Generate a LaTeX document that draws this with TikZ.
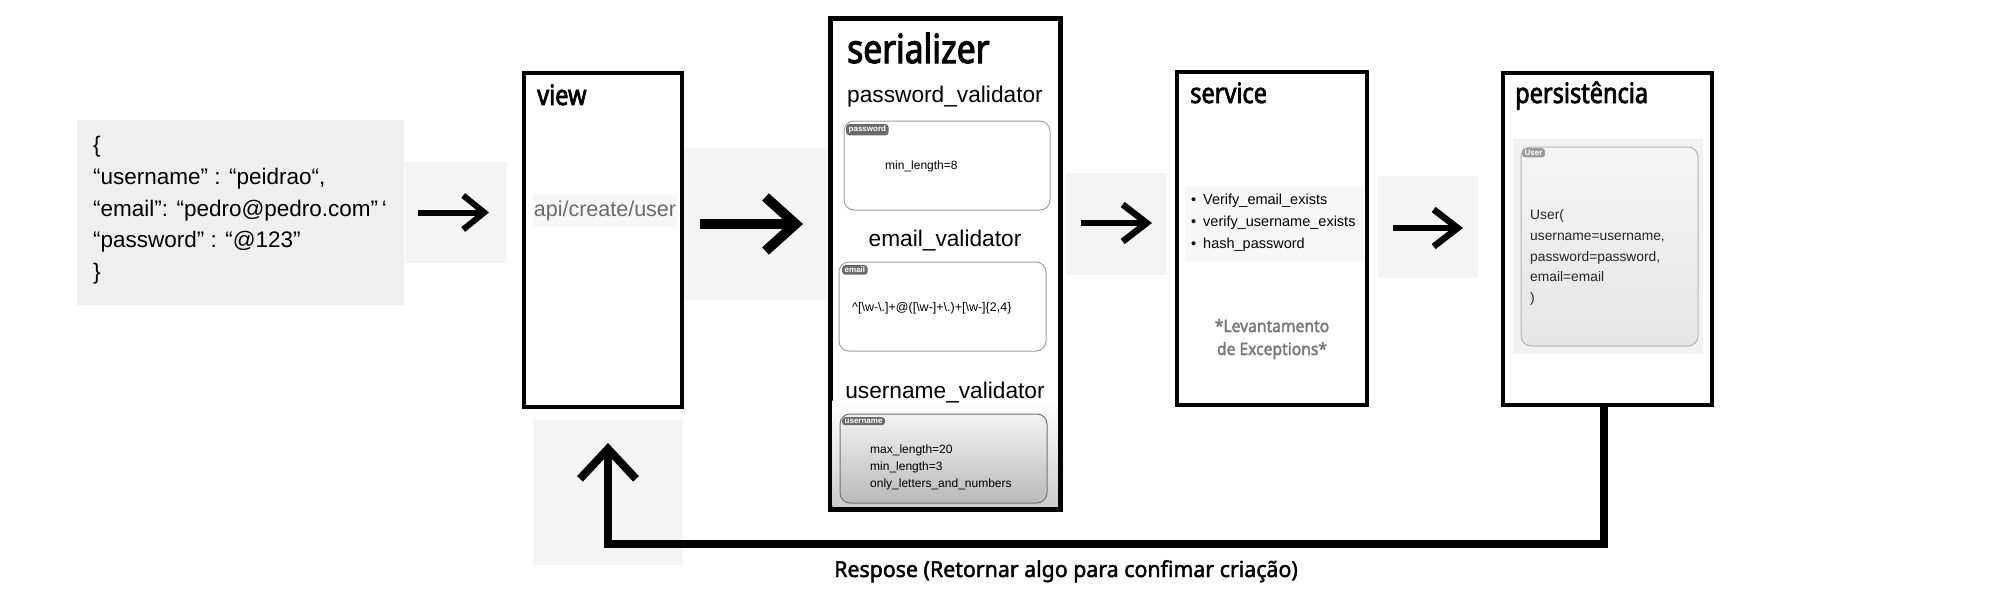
\documentclass[tikz,border=0pt]{standalone}
\usepackage{fontspec}
\setmainfont{Liberation Sans}
\newfontfamily\titlefont{Noto Sans}[FakeStretch=0.84, FakeBold=2.6]
\newfontfamily\respfont{Noto Sans}[FakeStretch=0.97, FakeBold=2]
\newfontfamily\notefont{Noto Sans}[FakeStretch=0.92, FakeBold=2]
\usetikzlibrary{arrows.meta,calc}
\definecolor{jsonbg}{HTML}{EFEFEF}
\definecolor{hatchbg}{HTML}{F4F4F4}
\definecolor{apibg}{HTML}{F7F7F7}
\definecolor{apigray}{HTML}{6B6B6B}
\definecolor{vgray}{HTML}{A0A0A0}
\definecolor{taggray}{HTML}{6A6A6A}
\definecolor{usertag}{HTML}{9A9A9A}
\definecolor{perbg}{HTML}{F2F2F2}
\definecolor{notegray}{HTML}{777777}
\tikzset{
  hatch/.style={fill=hatchbg, draw=none, inner sep=0pt},
  layer/.style={draw=black, line width=4pt, fill=white, inner sep=0pt},
  ttl/.style={anchor=base west, inner sep=0pt, font=\titlefont\fontsize{28}{30}\selectfont},
  vtitle/.style={anchor=base, inner sep=0pt, font=\fontsize{22.7}{26}\selectfont},
  vbox/.style={draw=vgray, line width=1pt, rounded corners=10pt, fill=white, inner sep=0pt},
  tag/.style={fill=taggray, rounded corners=3pt, text=white, inner xsep=2.5pt, inner ysep=1.8pt, font=\bfseries\fontsize{8}{8}\selectfont, anchor=north west},
  body/.style={anchor=base west, inner sep=0pt, font=\fontsize{12}{14}\selectfont},
  jsontxt/.style={anchor=base west, inner sep=0pt, font=\fontsize{22.5}{26}\selectfont},
  listtxt/.style={anchor=base west, inner sep=0pt, font=\fontsize{14.5}{16}\selectfont},
  usertxt/.style={anchor=base west, inner sep=0pt, font=\fontsize{13.8}{16}\selectfont, text=black!85},
  note/.style={anchor=base, inner sep=0pt, text=notegray, font=\notefont\fontsize{17}{19}\selectfont},
  flow/.style={line width=6pt, -{Straight Barb[length=21pt,width=34pt]}},
}
\begin{document}
\begin{tikzpicture}[x=1pt,y=-1pt]
\useasboundingbox (0,0) rectangle (2000,600);
\fill[white] (0,0) rectangle (2000,600);

% hatched image backgrounds
\node[hatch, minimum width=102, minimum height=101] (h1) at (456,212.5) {};
\node[hatch, minimum width=149, minimum height=152] (h2) at (752.5,224) {};
\node[hatch, minimum width=101, minimum height=102] (h3) at (1116.5,224) {};
\node[hatch, minimum width=100, minimum height=102] (h4) at (1428,227) {};
\node[hatch, minimum width=150, minimum height=145] (h5) at (608,492.5) {};

% JSON request
\node[fill=jsonbg, minimum width=327, minimum height=185, inner sep=0pt] (json) at (240.5,212.5) {};
\node[jsontxt] (j1) at (93,152) {\{};
\node[jsontxt] (j2) at (93,184) {“username” : “peidrao“,};
\node[jsontxt] (j3) at (93,216) {“email”: “pedro@pedro.com”\,`};
\node[jsontxt] (j4) at (93,247) {“password” : “@123”};
\node[jsontxt] (j5) at (93,279) {\}};

% view
\node[layer, minimum width=158, minimum height=334] (view) at (603,240) {};
\node[ttl] (viewt) at (537,105) {view};
\node[fill=apibg, text=apigray, inner sep=0pt, minimum width=144, minimum height=32, font=\fontsize{21.5}{24}\selectfont] (api) at (605,211) {api/create/user};

% serializer
\node[layer, line width=5pt, minimum width=230, minimum height=491] (ser) at (945,263.5) {};
\shade[top color=white, bottom color=black!20] (832.5,400) rectangle (1057.5,506.5);
\node[ttl, font=\titlefont\fontsize{40}{42}\selectfont] (sert) at (847,63) {serializer};

\node[vtitle] (pwt) at (945,102) {password\_validator};
\node[vbox, minimum width=206, minimum height=89] (pwb) at (947,165.5) {};
\node[tag] (pwtag) at (846,124) {password};
\node[body] (pwtxt) at (885,169) {min\_length=8};

\node[vtitle] (emt) at (945,246) {email\_validator};
\node[vbox, minimum width=207, minimum height=89] (emb) at (942.5,306.5) {};
\node[tag] (emtag) at (842,265) {email};
\node[body, font=\fontsize{12.5}{14}\selectfont] (emtxt) at (852,311) {\textasciicircum[\textbackslash w-\textbackslash .]+@([\textbackslash w-]+\textbackslash .)+[\textbackslash w-]\{2,4\}};

\node[vtitle] (ust) at (945,398) {username\_validator};
\node[vbox, draw=black!55, top color=black!5, bottom color=black!27, minimum width=207, minimum height=89] (usb) at (943.5,458.5) {};
\node[tag] (ustag) at (842,417) {username};
\node[body] (us1) at (870,453) {max\_length=20};
\node[body] (us2) at (870,470) {min\_length=3};
\node[body] (us3) at (870,487) {only\_letters\_and\_numbers};

% service
\node[layer, minimum width=190, minimum height=333] (svc) at (1272,238.5) {};
\node[ttl] (svct) at (1190,103) {service};
\node[fill=apibg, minimum width=178, minimum height=76, inner sep=0pt] (svclist) at (1274,224) {};
\node[listtxt] (b1) at (1191,204) {•};
\node[listtxt] (l1) at (1203,204) {Verify\_email\_exists};
\node[listtxt] (b2) at (1191,226) {•};
\node[listtxt] (l2) at (1203,226) {verify\_username\_exists};
\node[listtxt] (b3) at (1191,248) {•};
\node[listtxt] (l3) at (1203,248) {hash\_password};
\node[note] (lev1) at (1272,332) {*Levantamento};
\node[note] (lev2) at (1272,355) {de Exceptions*};

% persistencia
\node[layer, minimum width=209, minimum height=332] (per) at (1607.5,239) {};
\node[ttl] (pert) at (1515,103) {persistência};
\node[fill=perbg, minimum width=190, minimum height=215, inner sep=0pt] (perbox) at (1608,246.5) {};
\node[vbox, draw=black!30, top color=black!4, bottom color=black!10, minimum width=177, minimum height=199] (userb) at (1609.5,246.5) {};
\node[tag, fill=usertag] (usertag) at (1522,148) {User};
\node[usertxt] (u1) at (1530,219) {User(};
\node[usertxt] (u2) at (1530,240) {username=username,};
\node[usertxt] (u3) at (1530,261) {password=password,};
\node[usertxt] (u4) at (1530,281) {email=email};
\node[usertxt] (u5) at (1530,302) {)};

% flow arrows
\draw[flow] ($(h1.center)+(-38,0)$) -- ($(h1.center)+(33,0)$);
\draw[flow, line width=10pt, -{Straight Barb[length=30pt,width=54pt]}] ($(h2.center)+(-52.5,0)$) -- ($(h2.center)+(50.5,0)$);
\draw[flow, line width=6.5pt, -{Straight Barb[length=24pt,width=37pt]}] ($(h3.center)+(-35.5,-1)$) -- ($(h3.center)+(35.5,-1)$);
\draw[flow, line width=6.5pt, -{Straight Barb[length=24pt,width=37pt]}] ($(h4.center)+(-35,1)$) -- ($(h4.center)+(35,1)$);

% response path
\coordinate (retc) at (608,544);
\coordinate (rett) at (608,443);
\draw[line width=8pt, line join=miter, -{Straight Barb[length=30pt,width=56pt]}] ($(per.south)+(-4,0)$) |- (retc) -- (rett);
\node[anchor=base, inner sep=0pt, font=\respfont\fontsize{22}{24}\selectfont] (resp) at (1066,577) {Respose (Retornar algo para confimar criação)};
\end{tikzpicture}
\end{document}
